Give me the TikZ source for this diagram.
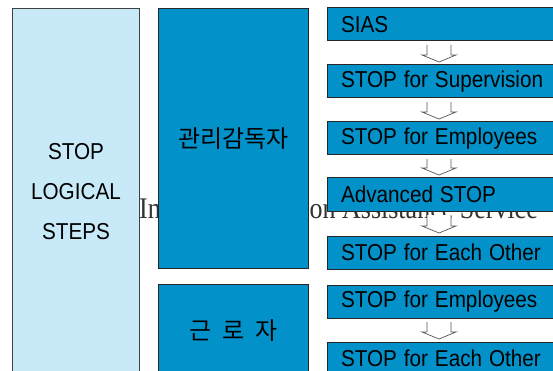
\documentclass[tikz,border=0pt]{standalone}
\usepackage{fontspec}
\setsansfont{Liberation Sans}
\newfontfamily\krfont{Noto Sans CJK KR}
\newfontfamily\bgfont{Liberation Serif}
\usepackage{graphicx}
\usetikzlibrary{calc}
\definecolor{paleblue}{HTML}{C8E9F8}
\definecolor{stopblue}{HTML}{0391C9}
\definecolor{arrgray}{HTML}{555555}
\newcommand{\nrw}[1]{\scalebox{0.9}[1]{#1}}
\newcommand{\harrow}[2]{\draw[hollowarr] let \p1=(#1.south west),\p2=(#2.north west) in
  (\x1+100pt,\y1-4pt)--(\x1+100pt,\y2+10pt)--(\x1+95pt,\y2+10pt)--(\x1+112pt,\y2+3pt)
  --(\x1+129pt,\y2+10pt)--(\x1+124pt,\y2+10pt)--(\x1+124pt,\y1-4pt);}
\tikzset{
  stepbox/.style={draw=black!85,line width=1pt,fill=stopblue,minimum height=33pt,
    text width=212pt,inner xsep=14pt,inner ysep=0pt,outer sep=0pt,align=left,anchor=north west,
    font=\sffamily\fontsize{23}{27}\selectfont},
  rolebox/.style={draw=black!85,line width=1pt,fill=stopblue,minimum width=150pt,
    anchor=north west,font=\krfont\fontsize{24}{28}\selectfont},
  hollowarr/.style={draw=arrgray,line width=0.7pt,fill=white,line join=miter},
  bgtext/.style={inner sep=0,text=black!80,font=\bgfont\fontsize{26}{30}\selectfont}
}
\begin{document}
\begin{tikzpicture}[x=1pt,y=-1pt]
	\useasboundingbox (0,0) rectangle (553,371);
	% text lying behind the boxes
	\node[bgtext,anchor=base west] (bgA) at (139,218) {\scalebox{1}[1.15]{In}};
	\node[bgtext,anchor=base east] (bgB) at (538,218) {\scalebox{1}[1.15]{on Assistance Service}};
	% left column
	\node[draw=black!75,line width=1pt,fill=paleblue,anchor=north west,minimum width=127pt,
		minimum height=367pt,align=center,font=\sffamily\fontsize{23}{40}\selectfont]
		(steps) at (12,8) {\nrw{STOP}\\\nrw{LOGICAL}\\\nrw{STEPS}};
	% roles
	\node[rolebox,minimum height=260pt] (mgr) at (158,8) {관리감독자};
	\node[rolebox,minimum height=92pt] (wkr) at (158,284) {근\hspace{0.46em}로\hspace{0.46em}자};
	% steps on the right
	\node[stepbox] (sias) at (327,8) {\nrw{SIAS}};
	\node[stepbox] (sup) at (327,65) {\nrw{STOP for Supervision}};
	\node[stepbox] (emp) at (327,122) {\nrw{STOP for Employees}};
	\node[stepbox] (adv) at (327,178) {\nrw{Advanced STOP}};
	\node[stepbox] (each) at (327,236) {\nrw{STOP for Each Other}};
	\node[stepbox] (emptwo) at (327,285) {\nrw{STOP for Employees}};
	\node[stepbox] (eachtwo) at (327,342) {\nrw{STOP for Each Other}};
	% arrows
	\harrow{sias}{sup}
	\harrow{sup}{emp}
	\harrow{emp}{adv}
	\harrow{adv}{each}
	\harrow{emptwo}{eachtwo}
\end{tikzpicture}
\end{document}
